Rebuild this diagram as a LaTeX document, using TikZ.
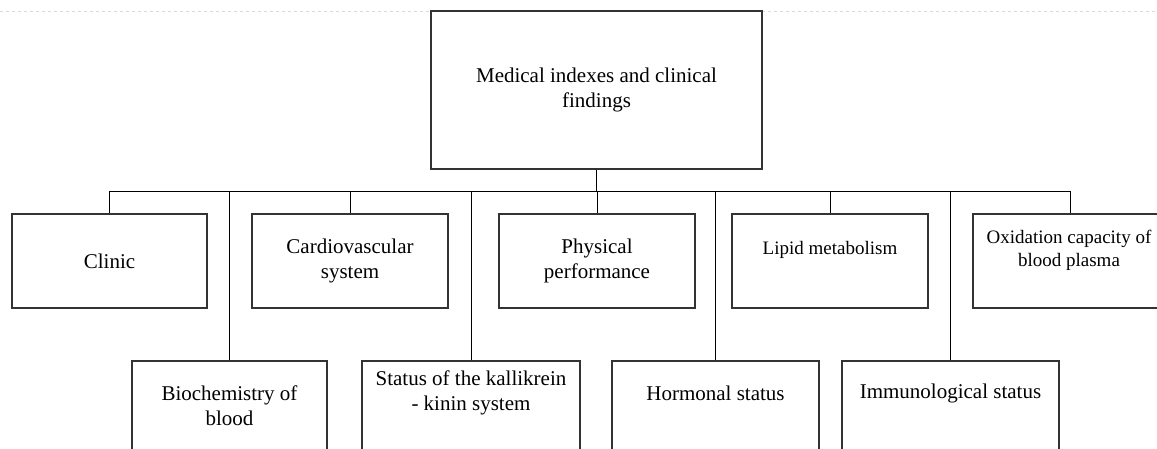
\documentclass[tikz,border=0pt]{standalone}
\usepackage{fontspec}
\setmainfont{Liberation Serif}
\begin{document}
\begin{tikzpicture}[x=1pt,y=-1pt,
  box/.style={draw=black!80,line width=1.3pt,rectangle,inner sep=0pt},
  lbl/.style={align=center,inner sep=0pt,font=\fontsize{21}{25}\selectfont},
  small/.style={align=center,inner sep=0pt,font=\fontsize{19}{23}\selectfont},
  link/.style={draw=black,line width=0.9pt}]
\useasboundingbox (0,0) rectangle (1157,448);
% faint page edge
\draw[gray!30,dashed,line width=0.8pt] (0,11) -- (1157,11);

% root
\node[box,minimum width=331,minimum height=158] (root) at (596.5,90) {};
\node[lbl] (root-t) at (596.5,90) {Medical indexes and clinical\\findings};

% upper row
\node[box,minimum width=195,minimum height=94] (clinic) at (109.5,261) {};
\node[lbl] (clinic-t) at (109.5,261) {Clinic};
\node[box,minimum width=196,minimum height=94] (cardio) at (350,261) {};
\node[lbl] (cardio-t) at (350,261) {Cardiovascular\\system};
\node[box,minimum width=196,minimum height=94] (phys) at (597,261) {};
\node[lbl] (phys-t) at (597,261) {Physical\\performance};
\node[box,minimum width=196,minimum height=94] (lipid) at (830,261) {};
\node[small] (lipid-t) at (830,250) {Lipid metabolism};
\node[box,minimum width=194,minimum height=94] (oxid) at (1070,261) {};
\node[small] (oxid-t) at (1069,250) {Oxidation capacity of\\blood plasma};

% lower row (runs past the lower edge)
\node[box,minimum width=195,minimum height=120] (bio) at (229.5,421) {};
\node[lbl] (bio-t) at (229.5,406) {Biochemistry of\\blood};
\node[box,minimum width=218,minimum height=120] (kal) at (471,421) {};
\node[lbl] (kal-t) at (471,393) {Status of the kallikrein\\- kinin system};
\node[box,minimum width=207,minimum height=120] (horm) at (715.5,421) {};
\node[lbl] (horm-t) at (715.5,393) {Hormonal status};
\node[box,minimum width=217,minimum height=120] (immu) at (950.5,421) {};
\node[lbl] (immu-t) at (950.5,393) {Immunological status};

% distribution bus
\coordinate (bus) at (0,191);
\draw[link] (root.south) -- (root.south |- bus);
\draw[link] (clinic.north |- bus) -- (oxid.north |- bus);
\foreach \n in {clinic,cardio,phys,lipid,oxid,bio,kal,horm,immu}
  \draw[link] (\n.north |- bus) -- (\n.north);
\end{tikzpicture}
\end{document}
